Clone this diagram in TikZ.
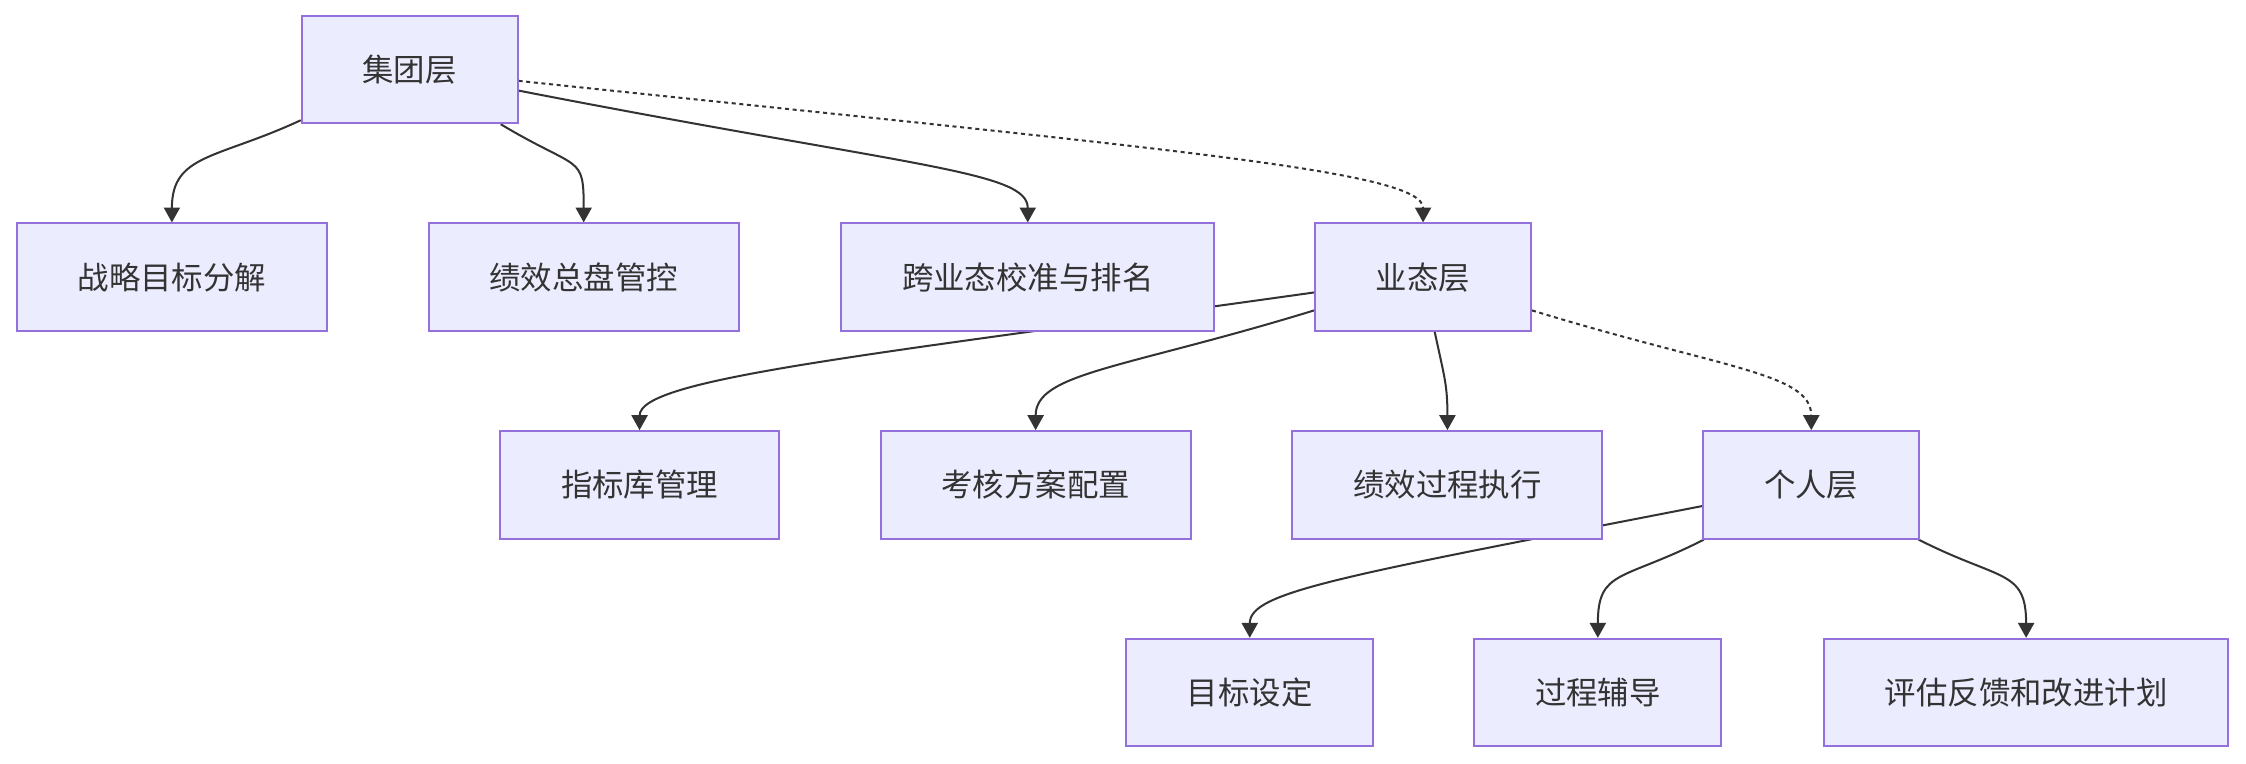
\documentclass[tikz,border=0pt]{standalone}
\usepackage{fontspec}
\setmainfont{Noto Sans CJK SC}
\usetikzlibrary{arrows.meta,backgrounds}
\definecolor{boxfill}{HTML}{ECECFF}
\definecolor{boxline}{HTML}{9370DB}
\definecolor{ink}{HTML}{333333}

\begin{document}
\begin{tikzpicture}[x=0.025cm,y=0.025cm,font=\fontsize{15.6}{18}\selectfont,
  box/.style={draw=boxline,fill=boxfill,line width=1pt,text=ink,minimum height=1.875cm,inner xsep=1.06cm},
  flow/.style={draw=ink,line width=1pt,-{Triangle[length=0.26cm,width=0.28cm]}},
  dotflow/.style={flow,dash pattern=on 2pt off 1.8pt}]
  \useasboundingbox (0,0) rectangle (1568,-533);
  % three layers, one row each
  \foreach \nm/\x/\y/\lab in {jt/286/48.5/集团层,
      zl/120/193.5/战略目标分解, jx/407.5/193.5/绩效总盘管控, kyt/717.5/193.5/跨业态校准与排名, yt/993.5/193.5/业态层,
      zb/446.5/338.5/指标库管理, kh/723/338.5/考核方案配置, gc/1010.5/338.5/绩效过程执行, gr/1264.5/338.5/个人层,
      mb/872.5/483.5/目标设定, fd/1115.5/483.5/过程辅导, pg/1414.5/483.5/评估反馈和改进计划} {
    \node[box] (\nm) at (\x,-\y) {\lab};
  }
  \begin{pgfonlayer}{background}
    \foreach \a/\b/\po/\pd/\qd in {jt/zl/205/1.6/1.2, jt/jx/-31/1.6/1.2, jt/kyt/-11/7/0.9,
        yt/zb/188/8/0.9, yt/kh/197/3.5/1, yt/gc/-78/0.8/0.8,
        gr/mb/191/6.5/0.8, gr/fd/207/1.6/1.2, gr/pg/-27/1.6/1.2} {
      \draw[flow] (\a) to[out=\po,in=90,out distance=\pd cm,in distance=\qd cm] (\b.north);
    }
    \draw[dotflow] (jt) to[out=-6,in=90,out distance=11.5cm,in distance=0.9cm] (yt.north);
    \draw[dotflow] (yt) to[out=-17,in=90,out distance=3.5cm,in distance=1cm] (gr.north);
  \end{pgfonlayer}
\end{tikzpicture}
\end{document}
